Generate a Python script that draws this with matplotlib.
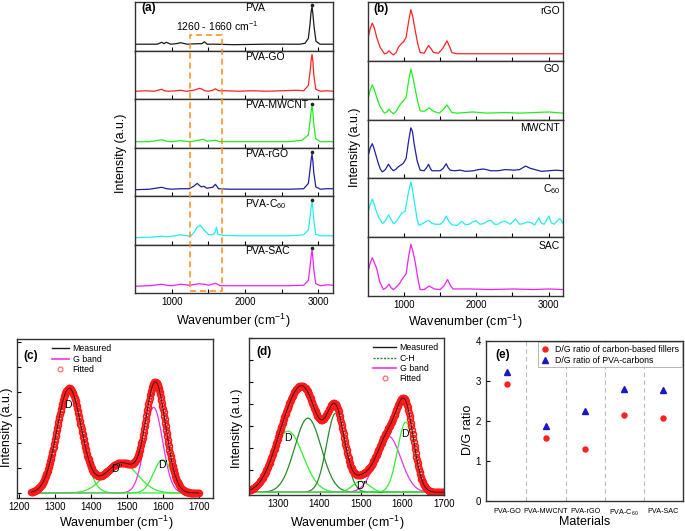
import numpy as np
import matplotlib
matplotlib.use("Agg")
import matplotlib.pyplot as plt
import matplotlib.transforms as mtrans
from matplotlib.patches import Rectangle
from matplotlib.lines import Line2D

plt.rcParams['font.family'] = ['Liberation Sans', 'DejaVu Sans']
plt.rcParams['mathtext.fontset'] = 'custom'
plt.rcParams['mathtext.rm'] = 'Liberation Sans'
plt.rcParams['mathtext.it'] = 'Liberation Sans:italic'
plt.rcParams['mathtext.bf'] = 'Liberation Sans:bold'
plt.rcParams['axes.linewidth'] = 1.0
plt.rcParams['axes.edgecolor'] = '#333333'

# ---- (a) Raman spectra of PVA composites (normalised)
pva_x = [500, 700, 805, 864, 896, 928, 986, 1060, 1122, 1213, 1348, 1410, 1448, 1484, 1600,
         1846, 2300, 2751, 2819, 2864, 2887, 2900, 2914, 2927, 2941, 2968, 3023, 3200]
pva_y = [0.13, 0.13, 0.13, 0.17, 0.14, 0.17, 0.13, 0.14, 0.16, 0.13, 0.14, 0.14, 0.18, 0.13, 0.13,
         0.12, 0.13, 0.13, 0.15, 0.25, 0.55, 0.78, 0.90, 0.74, 0.50, 0.19, 0.13, 0.13]
pva_go_x = [500, 640, 760, 864, 900, 960, 1060, 1122, 1200, 1300, 1380, 1420, 1450, 1500, 1560, 1597,
            1640, 1750, 1900, 2100, 2300, 2500, 2706, 2800, 2864, 2890, 2902, 2914, 2927, 2938, 2965,
            3030, 3120, 3200]
pva_go_y = [0.16, 0.17, 0.16, 0.20, 0.17, 0.16, 0.17, 0.18, 0.16, 0.18, 0.22, 0.20, 0.17, 0.16, 0.18, 0.21,
            0.17, 0.17, 0.16, 0.17, 0.16, 0.17, 0.18, 0.17, 0.28, 0.60, 0.80, 0.92, 0.76, 0.50, 0.20,
            0.16, 0.17, 0.16]
pva_mwcnt_x = [500, 700, 864, 930, 1000, 1120, 1250, 1380, 1430, 1480, 1597, 1650, 1800, 2200, 2600,
               2780, 2864, 2890, 2902, 2914, 2927, 2938, 2965, 3030, 3200]
pva_mwcnt_y = [0.12, 0.12, 0.16, 0.13, 0.12, 0.14, 0.12, 0.15, 0.17, 0.13, 0.15, 0.12, 0.12, 0.12, 0.12,
               0.15, 0.26, 0.58, 0.75, 0.86, 0.70, 0.48, 0.18, 0.12, 0.12]
pva_rgo_x = [500, 700, 864, 930, 1000, 1122, 1240, 1300, 1348, 1400, 1440, 1480, 1560, 1597, 1640, 1800,
             2200, 2600, 2800, 2864, 2890, 2902, 2914, 2927, 2938, 2965, 3030, 3120, 3200]
pva_rgo_y = [0.13, 0.14, 0.18, 0.15, 0.14, 0.15, 0.15, 0.20, 0.26, 0.19, 0.20, 0.16, 0.18, 0.24, 0.15, 0.14,
             0.14, 0.14, 0.15, 0.26, 0.58, 0.75, 0.86, 0.70, 0.48, 0.19, 0.14, 0.15, 0.15]
pva_c60_x = [500, 700, 864, 930, 1000, 1122, 1200, 1260, 1300, 1340, 1385, 1410, 1440, 1500, 1560, 1590,
             1611, 1630, 1700, 1900, 2200, 2600, 2800, 2864, 2890, 2902, 2914, 2927, 2938, 2965, 3030, 3200]
pva_c60_y = [0.14, 0.15, 0.17, 0.16, 0.17, 0.20, 0.18, 0.17, 0.24, 0.34, 0.40, 0.36, 0.30, 0.21, 0.20, 0.25,
             0.36, 0.21, 0.19, 0.18, 0.18, 0.18, 0.20, 0.30, 0.60, 0.77, 0.88, 0.72, 0.50, 0.21, 0.18, 0.18]
pva_sac_x = [500, 700, 864, 930, 1000, 1122, 1250, 1370, 1450, 1500, 1600, 1660, 1800, 2200, 2600, 2800,
             2864, 2890, 2902, 2914, 2927, 2938, 2965, 3030, 3130, 3200]
pva_sac_y = [0.14, 0.15, 0.18, 0.16, 0.15, 0.18, 0.16, 0.19, 0.18, 0.16, 0.20, 0.15, 0.15, 0.15, 0.15, 0.16,
             0.26, 0.58, 0.76, 0.88, 0.71, 0.48, 0.19, 0.15, 0.17, 0.16]
a_names = ["PVA", "PVA-GO", "PVA-MWCNT", "PVA-rGO", "PVA-C$\\mathregular{_{60}}$", "PVA-SAC"]
a_colors = ["#1a1a1a", "#ff2222", "#22ee22", "#1f1f9f", "#22eeee", "#ee22ee"]
a_data = [(pva_x, pva_y), (pva_go_x, pva_go_y), (pva_mwcnt_x, pva_mwcnt_y),
          (pva_rgo_x, pva_rgo_y), (pva_c60_x, pva_c60_y), (pva_sac_x, pva_sac_y)]
box_range = [1250, 1690]

# ---- (b) spectra of the carbon fillers
rgo_x = [500, 530, 560, 590, 620, 667, 727, 760, 792, 820, 852, 890, 921, 960, 991, 1028, 1060, 1093,
         1120, 1153, 1190, 1222, 1278, 1310, 1338, 1370, 1407, 1477, 1540, 1593, 1630, 1662, 1731,
         2000, 2400, 2800, 3200]
rgo_y = [0.38, 0.55, 0.64, 0.55, 0.40, 0.23, 0.12, 0.13, 0.17, 0.13, 0.10, 0.14, 0.23, 0.29, 0.32, 0.40,
         0.65, 0.87, 0.75, 0.52, 0.28, 0.14, 0.13, 0.20, 0.26, 0.21, 0.14, 0.13, 0.22, 0.34, 0.24, 0.14,
         0.12, 0.12, 0.12, 0.12, 0.12]
go_x = [500, 530, 560, 590, 620, 667, 727, 760, 792, 820, 852, 890, 921, 960, 991, 1028, 1060, 1093,
        1120, 1153, 1190, 1222, 1278, 1347, 1407, 1486, 1540, 1593, 1630, 1662, 1731, 1950, 2150, 2400,
        2600, 2800, 3000, 3200]
go_y = [0.35, 0.50, 0.59, 0.50, 0.38, 0.22, 0.11, 0.13, 0.18, 0.13, 0.10, 0.14, 0.21, 0.28, 0.32, 0.38,
        0.64, 0.86, 0.73, 0.52, 0.30, 0.15, 0.14, 0.20, 0.14, 0.11, 0.17, 0.25, 0.18, 0.12, 0.11, 0.13,
        0.11, 0.12, 0.11, 0.12, 0.13, 0.11]
mwcnt_x = [500, 530, 560, 580, 597, 620, 644, 670, 699, 740, 783, 820, 852, 890, 921, 960, 991, 1028,
           1060, 1093, 1115, 1139, 1180, 1222, 1278, 1310, 1338, 1360, 1384, 1500, 1540, 1583, 1610,
           1639, 1700, 1778, 1850, 1963, 2030, 2102, 2200, 2300, 2400, 2519, 2600, 2681, 2750, 2843,
           2900, 3000, 3100, 3200]
mwcnt_y = [0.37, 0.52, 0.59, 0.52, 0.45, 0.35, 0.25, 0.16, 0.11, 0.15, 0.24, 0.17, 0.13, 0.16, 0.20, 0.23,
           0.26, 0.34, 0.62, 0.86, 0.80, 0.59, 0.30, 0.14, 0.13, 0.18, 0.24, 0.18, 0.13, 0.13, 0.17, 0.25,
           0.18, 0.14, 0.13, 0.14, 0.12, 0.13, 0.15, 0.16, 0.13, 0.13, 0.15, 0.14, 0.15, 0.21, 0.17, 0.14,
           0.12, 0.13, 0.14, 0.13]
c60_x = [500, 530, 560, 590, 611, 650, 704, 740, 783, 820, 852, 880, 907, 940, 968, 1014, 1050, 1093,
         1120, 1153, 1180, 1208, 1268, 1338, 1380, 1431, 1500, 1545, 1583, 1620, 1662, 1731, 1800, 1850,
         1900, 1950, 2000, 2050, 2100, 2150, 2200, 2250, 2300, 2350, 2400, 2470, 2542, 2600, 2650, 2700,
         2750, 2810, 2866, 2900, 2940, 3005, 3040, 3080, 3120, 3157, 3200]
c60_y = [0.41, 0.56, 0.65, 0.55, 0.46, 0.33, 0.23, 0.28, 0.38, 0.30, 0.23, 0.25, 0.29, 0.36, 0.41, 0.44,
         0.70, 0.94, 0.78, 0.52, 0.30, 0.20, 0.24, 0.29, 0.24, 0.22, 0.22, 0.27, 0.36, 0.27, 0.21, 0.20,
         0.27, 0.21, 0.22, 0.26, 0.28, 0.22, 0.23, 0.27, 0.29, 0.22, 0.22, 0.26, 0.27, 0.22, 0.31, 0.22,
         0.23, 0.26, 0.25, 0.21, 0.33, 0.24, 0.22, 0.36, 0.24, 0.22, 0.28, 0.32, 0.24]
sac_x = [500, 530, 560, 590, 620, 660, 713, 750, 792, 820, 852, 890, 935, 970, 1000, 1028, 1060, 1093,
         1120, 1153, 1190, 1222, 1278, 1347, 1417, 1500, 1550, 1602, 1640, 1676, 1900, 2200, 2500, 2800,
         3000, 3200]
sac_y = [0.41, 0.56, 0.65, 0.56, 0.47, 0.25, 0.11, 0.14, 0.20, 0.14, 0.11, 0.15, 0.21, 0.28, 0.33, 0.38,
         0.65, 0.88, 0.77, 0.58, 0.30, 0.11, 0.11, 0.17, 0.12, 0.11, 0.17, 0.28, 0.18, 0.12, 0.12, 0.11,
         0.12, 0.11, 0.12, 0.11]
b_names = ["rGO", "GO", "MWCNT", "C$\\mathregular{_{60}}$", "SAC"]
b_colors = ["#ff2222", "#22ee22", "#1f1f9f", "#22eeee", "#ee22ee"]
b_data = [(rgo_x, rgo_y), (go_x, go_y), (mwcnt_x, mwcnt_y), (c60_x, c60_y), (sac_x, sac_y)]

# ---- (c) band fit of a carbon filler: centre, height, width (sigma)
c_bands = ["D", 'D"', "G", "D'"]
c_center = [1340, 1485, 1575, 1600]
c_height = [104, 30, 85, 33]
c_sigma = [34, 45, 25, 25]

# ---- (d) band fit of a PVA composite
d_bands = ["D", "C-H", "C-H", 'D"', "G", "D'"]
d_center = [1324, 1372, 1439, 1500, 1566, 1608]
d_height = [61, 74, 79, 11, 56, 70]
d_sigma = [36, 32, 22, 20, 30, 20]

# ---- (e) D/G ratios
e_labels = ["PVA-GO", "PVA-MWCNT", "PVA-rGO", "PVA-C$\\mathregular{_{60}}$", "PVA-SAC"]
dg_fillers = [2.93, 1.58, 1.29, 2.14, 2.07]
dg_pva = [3.22, 1.87, 2.25, 2.79, 2.78]

W, H = 685, 531
fig = plt.figure(figsize=(W / 100, H / 100), dpi=100)


def rect(l, t, r, b):
    return [l / W, 1 - b / H, (r - l) / W, (b - t) / H]


def band(x, c, h, s):
    return h * np.exp(-(x - c) ** 2 / (2 * s ** 2))


def spectra_column(left, right, top, bottom, data, names, colors, is_a):
    n = len(data)
    hh = (bottom - top) / n
    axes = []
    for i, ((x, y), name, col) in enumerate(zip(data, names, colors)):
        ax = fig.add_axes(rect(left, top + i * hh, right, top + (i + 1) * hh))
        ax.plot(x, y, color=col, lw=0.9)
        ax.set_xlim(500, 3200)
        ax.set_ylim(0, 1)
        ax.set_yticks([])
        ax.set_xticks([1000, 2000, 3000])
        ax.set_xticks([1500, 2500], minor=True)
        ax.tick_params(axis='x', which='both', direction='in', length=3, width=0.8,
                       labelsize=7, pad=3)
        if i < n - 1:
            ax.tick_params(labelbottom=False)
        if is_a:
            ax.text(2000, 0.97, name, ha='left', va='top', fontsize=7.5)
            k = int(np.argmax(y))
            if y[k] < 0.91:
                ax.plot(x[k], y[k] + 0.045, marker='o', ms=1.6, color='#222222', clip_on=False)
        else:
            ax.text(0.985, 0.94, name, ha='right', va='top', fontsize=7.5,
                    transform=ax.transAxes)
        axes.append(ax)
    return axes


ax_a = spectra_column(135, 333, 2, 293, a_data, a_names, a_colors, True)
ax_b = spectra_column(368, 563, 2, 296, b_data, b_names, b_colors, False)

ax_a[0].text(0.03, 0.88, "(a)", transform=ax_a[0].transAxes, fontsize=8.5,
             fontweight='bold', va='center')
ax_a[0].text(1060, 0.5, "1260 - 1660 cm$^{-1}$", fontsize=7.5, va='center')
ax_b[0].text(0.03, 0.88, "(b)", transform=ax_b[0].transAxes, fontsize=8.5,
             fontweight='bold', va='center')

tr = mtrans.blended_transform_factory(ax_a[-1].transData, fig.transFigure)
y0, y1 = 1 - 291 / H, 1 - 35 / H
fig.patches.append(Rectangle((box_range[0], y0), box_range[1] - box_range[0], y1 - y0,
                             transform=tr, fill=False, ec='#ff8c1a', lw=1.1,
                             ls=(0, (4, 2.5)), zorder=10))

fig.text(121 / W, 1 - 153 / H, "Intensity (a.u.)", rotation=90, ha='center', va='center', fontsize=9)
fig.text(355 / W, 1 - 147 / H, "Intensity (a.u.)", rotation=90, ha='center', va='center', fontsize=9)
fig.text(233 / W, 1 - 321 / H, "Wavenumber (cm$^{-1}$)", ha='center', va='center', fontsize=9)
fig.text(465 / W, 1 - 322 / H, "Wavenumber (cm$^{-1}$)", ha='center', va='center', fontsize=9)

green = "#33ee33"
dgreen = "#2a8a2a"
mag = "#ee33ee"


def fit_panel(ax, names, centers, heights, sigmas, xr, label_pos):
    xs = np.linspace(xr[0], xr[1], 400)
    total = np.zeros_like(xs)
    for nm, c, h, s in zip(names, centers, heights, sigmas):
        comp = band(xs, c, h, s)
        total += comp
        col = mag if nm == "G" else (dgreen if nm == "C-H" else green)
        ax.plot(xs, comp, color=col, lw=0.9)
    xm = np.arange(xr[0], xr[1] + 1, 1.5)
    tm = sum(band(xm, c, h, s) for c, h, s in zip(centers, heights, sigmas))
    ax.plot(xm, tm, ls='none', marker='o', ms=4.3, mfc='none', mec='#ff1a1a', mew=1.1)
    ax.plot(xs, total, color='#4a1010', lw=0.7)
    for (t, px, py) in label_pos:
        ax.text(px, py, t, ha='center', va='center', fontsize=7.5)


# (c)
ax_c = fig.add_axes(rect(17, 339, 213, 498))
fit_panel(ax_c, c_bands, c_center, c_height, c_sigma, (1235, 1700),
          [("D", 1336, 87), ('D"', 1472, 24), ("D'", 1600, 28)])
ax_c.set_xlim(1195, 1740)
ax_c.set_ylim(-5, 153)
ax_c.set_xticks(range(1200, 1701, 100))
ax_c.set_yticks(range(0, 151, 25))
ax_c.set_yticklabels([])
ax_c.tick_params(direction='in', length=3, width=0.8, labelsize=7, pad=3)
ax_c.text(0.03, 0.89, "(c)", transform=ax_c.transAxes, fontsize=8.5, fontweight='bold', va='center')
hc = [Line2D([], [], color='#1a1a1a', lw=1.0), Line2D([], [], color=mag, lw=1.2),
      Line2D([], [], ls='none', marker='o', ms=3.5, mfc='none', mec='#ff6060', mew=0.8)]
ax_c.legend(hc, ["Measured", "G band", "Fitted"], loc='upper left', bbox_to_anchor=(0.15, 1.0),
            frameon=False, fontsize=6.3, handlelength=2.0, labelspacing=0.15,
            handletextpad=0.4, borderaxespad=0.2)

# (d)
ax_d = fig.add_axes(rect(249, 338, 444, 495))
fit_panel(ax_d, d_bands, d_center, d_height, d_sigma, (1230, 1700),
          [("D", 1324, 54), ('D"', 1501, 6), ("D'", 1609, 58)])
ax_d.set_xlim(1230, 1700)
ax_d.set_ylim(-2.7, 154)
ax_d.set_xticks(range(1300, 1701, 100))
ax_d.set_yticks(range(0, 155, 22))
ax_d.set_yticklabels([])
ax_d.tick_params(direction='in', length=3, width=0.8, labelsize=7, pad=3)
ax_d.text(0.04, 0.91, "(d)", transform=ax_d.transAxes, fontsize=8.5, fontweight='bold', va='center')
hd = [Line2D([], [], color='#1a1a1a', lw=1.0), Line2D([], [], color=dgreen, lw=1.0, ls=(0, (1.5, 1))),
      Line2D([], [], color=mag, lw=1.2),
      Line2D([], [], ls='none', marker='o', ms=3.5, mfc='none', mec='#ff6060', mew=0.8)]
ax_d.legend(hd, ["Measured", "C-H", "G band", "Fitted"], loc='upper right', bbox_to_anchor=(1.0, 1.0),
            frameon=False, fontsize=6.3, handlelength=2.6, labelspacing=0.15,
            handletextpad=0.4, borderaxespad=0.2)

fig.text(7 / W, 1 - 427 / H, "Intensity (a.u.)", rotation=90, ha='center', va='center', fontsize=9)
fig.text(237 / W, 1 - 428 / H, "Intensity (a.u.)", rotation=90, ha='center', va='center', fontsize=9)
fig.text(116 / W, 1 - 523 / H, "Wavenumber (cm$^{-1}$)", ha='center', va='center', fontsize=9)
fig.text(347 / W, 1 - 523 / H, "Wavenumber (cm$^{-1}$)", ha='center', va='center', fontsize=9)

# (e)
ax_e = fig.add_axes(rect(486, 341, 683, 501))
xpos = np.arange(1, len(e_labels) + 1)
for xv in xpos[:-1] + 0.5:
    ax_e.axvline(xv, color='#b8b8c8', lw=0.8, ls=(0, (4, 3)))
ax_e.plot(xpos, dg_fillers, ls='none', marker='o', ms=3.6, color='#ff2020',
          label="D/G ratio of carbon-based fillers")
ax_e.plot(xpos, dg_pva, ls='none', marker='^', ms=4.0, color='#1818c8',
          label="D/G ratio of PVA-carbons")
ax_e.set_xlim(0.47, 5.5)
ax_e.set_ylim(0, 4)
ax_e.set_yticks(range(0, 5))
ax_e.set_xticks(xpos)
ax_e.set_xticklabels(e_labels, fontsize=5.2)
ax_e.tick_params(axis='x', length=0, pad=5)
ax_e.tick_params(axis='y', direction='in', length=3, width=0.8, labelsize=7)
ax_e.text(0.05, 0.91, "(e)", transform=ax_e.transAxes, fontsize=8.5, fontweight='bold', va='center')
leg = ax_e.legend(loc='upper right', fontsize=6.3, frameon=True, fancybox=False,
                  borderaxespad=0.15, handlelength=1.2, handletextpad=0.5,
                  labelspacing=0.2, borderpad=0.3)
leg.get_frame().set_edgecolor('#999999')
leg.get_frame().set_linewidth(0.6)
fig.text(468 / W, 1 - 430 / H, "D/G ratio", rotation=90, ha='center', va='center', fontsize=9)
fig.text(585 / W, 1 - 522 / H, "Materials", ha='center', va='center', fontsize=9)

fig.savefig("out.png", dpi=100)
